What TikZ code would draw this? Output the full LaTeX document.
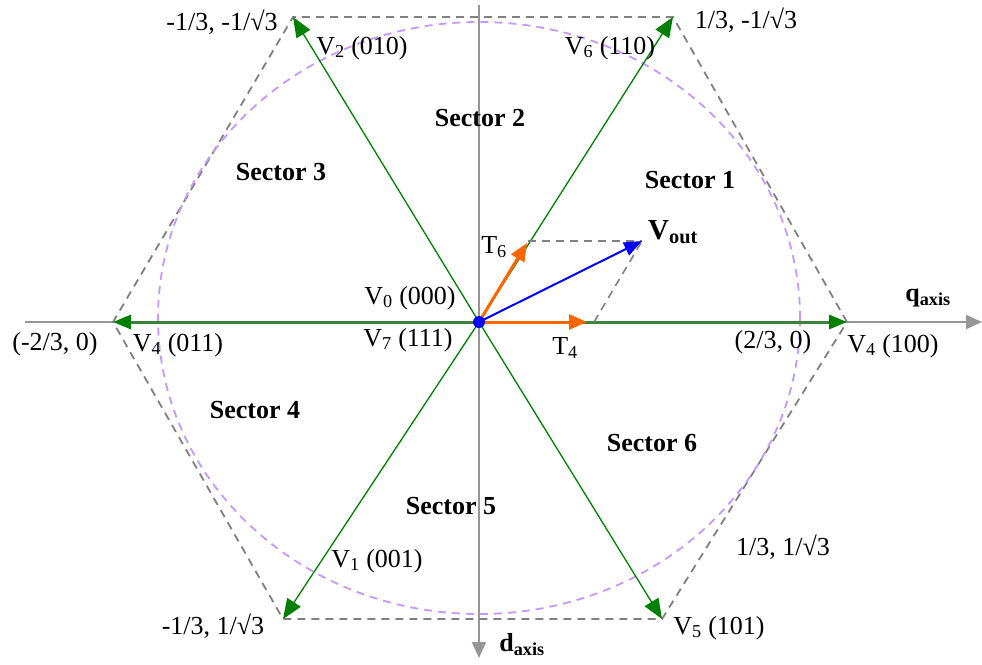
\documentclass[tikz,border=0pt]{standalone}
\usepackage{fontspec}
\setmainfont{Liberation Serif}
\usetikzlibrary{arrows.meta}
\definecolor{vgreen}{RGB}{0,128,0}
\definecolor{hgreen}{RGB}{60,130,60}
\definecolor{axgray}{RGB}{150,150,150}
\definecolor{dgray}{RGB}{128,128,128}
\definecolor{lpurple}{RGB}{200,150,255}
\definecolor{vorange}{RGB}{255,102,0}
\tikzset{
  lbl/.style={inner sep=0pt, font=\fontsize{26}{29}\selectfont},
  sector/.style={inner sep=0pt, font=\fontsize{26}{29}\selectfont\bfseries},
  axisline/.style={draw=axgray, line width=2pt},
  hexdash/.style={draw=dgray, line width=1.8pt, dash pattern=on 8pt off 6pt},
  circdash/.style={draw=lpurple, line width=1.8pt, dash pattern=on 8pt off 6pt},
  garrow/.style={draw=vgreen, line width=1.3pt, -{Triangle[length=20pt,width=16pt]}},
  harrow/.style={draw=hgreen, line width=3pt, -{Triangle[length=18pt,width=14pt,color=vgreen,fill=vgreen]}},
  oarrow/.style={draw=vorange, line width=3pt, -{Triangle[length=18pt,width=15pt]}},
  barrow/.style={draw=blue, line width=2pt, -{Triangle[length=18pt,width=14pt]}},
  aux/.style={draw=dgray, line width=1.6pt, dash pattern=on 8pt off 6pt},
}
\begin{document}
\begin{tikzpicture}[x=1pt,y=-1pt]
\useasboundingbox (0,0) rectangle (982,664);
% key points
\coordinate (O) at (479,322);
\coordinate (A) at (847,322);
\coordinate (B) at (673,17);
\coordinate (C) at (293,17);
\coordinate (D) at (113,322);
\coordinate (E) at (283,619);
\coordinate (F) at (662,619);
\coordinate (qs) at (25,322);
\coordinate (qe) at (982,322);
\coordinate (ds) at (479,5);
\coordinate (de) at (479,658);
\coordinate (T6) at (527,243);
\coordinate (T4) at (587,322);
\coordinate (Vo) at (642,241);
\coordinate (P1) at (528,241);
\coordinate (P2) at (594,322);
% axes
\draw[axisline, -{Triangle[length=16pt,width=14pt]}] (qs) -- (qe);
\draw[axisline, -{Triangle[length=16pt,width=14pt]}] (ds) -- (de);
% hexagon and circle
\draw[hexdash] (A) -- (B) -- (C) -- (D) -- (E) -- (F) -- cycle;
\draw[circdash] (479,318) ellipse [x radius=321, y radius=296];
% vectors
\draw[harrow] (O) -- (A);
\draw[harrow] (O) -- (D);
\draw[garrow] (O) -- (B);
\draw[garrow] (O) -- (C);
\draw[garrow] (O) -- (E);
\draw[garrow] (O) -- (F);
\draw[aux] (P1) -- (Vo);
\draw[aux] (P2) -- (Vo);
\draw[oarrow] (O) -- (T6);
\draw[oarrow] (O) -- (T4);
\draw[barrow] (O) -- (Vo);
\fill[blue] (O) circle (6);
% labels
\node[lbl] (lC) at (222,22) {-1/3, -1/√3};
\node[lbl] (lV2) at (362,48) {V\textsubscript{2} (010)};
\node[lbl] (lB) at (746,20) {1/3, -1/√3};
\node[lbl] (lV6) at (610,48) {V\textsubscript{6} (110)};
\node[lbl] (lV0) at (410,298) {V\textsubscript{0} (000)};
\node[lbl] (lV7) at (408,340) {V\textsubscript{7} (111)};
\node[lbl] (lT6) at (494,247) {T\textsubscript{6}};
\node[lbl] (lT4) at (565,348) {T\textsubscript{4}};
\node[inner sep=0pt, font=\fontsize{29}{31}\selectfont\bfseries] (lVo) at (673,232) {V\textsubscript{out}};
\node[lbl] (lD) at (55,344) {(-2/3, 0)};
\node[lbl] (lV4a) at (178,345) {V\textsubscript{4} (011)};
\node[lbl] (lA) at (773,342) {(2/3, 0)};
\node[lbl] (lV4b) at (893,346) {V\textsubscript{4} (100)};
\node[sector] (lq) at (928,298) {q\textsubscript{axis}};
\node[sector] (ld) at (522,645) {d\textsubscript{axis}};
\node[lbl] (lV1) at (377,561) {V\textsubscript{1} (001)};
\node[lbl] (lE) at (213,626) {-1/3, 1/√3};
\node[lbl] (lF) at (783,547) {1/3, 1/√3};
\node[lbl] (lV5) at (719,628) {V\textsubscript{5} (101)};
\node[sector] (s1) at (690,180) {Sector 1};
\node[sector] (s2) at (480,118) {Sector 2};
\node[sector] (s3) at (281,172) {Sector 3};
\node[sector] (s4) at (255,410) {Sector 4};
\node[sector] (s5) at (451,506) {Sector 5};
\node[sector] (s6) at (652,443) {Sector 6};
\end{tikzpicture}
\end{document}
